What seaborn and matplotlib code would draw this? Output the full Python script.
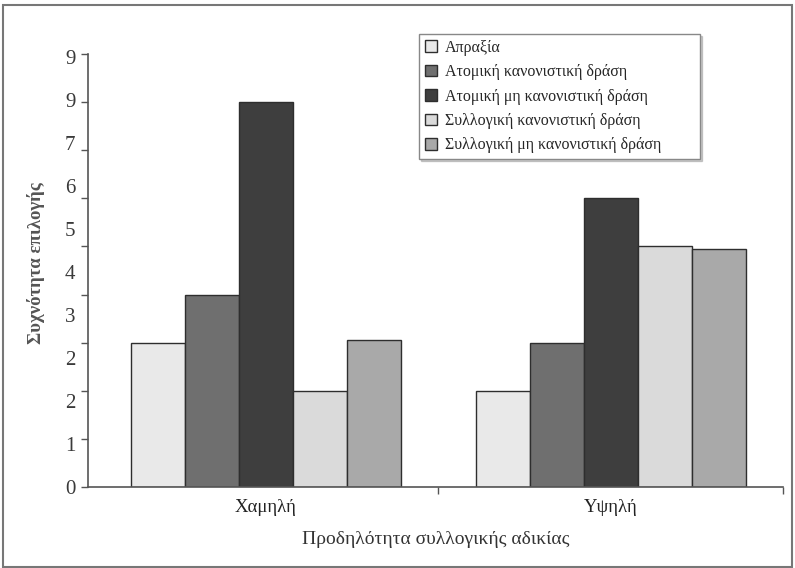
import numpy as np
import pandas as pd
import matplotlib
matplotlib.use("Agg")
import matplotlib.pyplot as plt
import seaborn as sns
from matplotlib.patches import Rectangle

# data
groups = ["Χαμηλή", "Υψηλή"]
actions = ["Απραξία",
           "Ατομική κανονιστική δράση",
           "Ατομική μη κανονιστική δράση",
           "Συλλογική κανονιστική δράση",
           "Συλλογική μη κανονιστική δράση"]
low_vals = [3, 4, 8, 2, 3.05]
high_vals = [2, 3, 6, 5, 4.95]
ytick_labels = ["0", "1", "2", "2", "3", "4", "5", "6", "7", "9", "9"]
colors = ["#e9e9e9", "#6f6f6f", "#3e3e3e", "#dadada", "#a9a9a9"]

df = pd.DataFrame({
    "group": [groups[0]] * 5 + [groups[1]] * 5,
    "action": actions * 2,
    "value": low_vals + high_vals,
})

sns.set_style("white")
plt.rcParams["font.family"] = ["Liberation Serif", "DejaVu Serif"]

fig = plt.figure(figsize=(7.95, 5.68), dpi=100)
ax = fig.add_axes([88/795, 1-487/568, 695/795, 433/568])

sns.barplot(data=df, x="group", y="value", hue="action", order=groups,
            hue_order=actions, palette=dict(zip(actions, colors)),
            width=0.783, edgecolor="#2e2e2e", linewidth=1, saturation=1, ax=ax)

ax.set_xlim(-0.515, 1.5)
ax.set_ylim(0, 9)
sns.despine(ax=ax)
for s in ["left", "bottom"]:
    ax.spines[s].set_color("#555555")
    ax.spines[s].set_linewidth(1.2)

# y axis: tick marks at whole units, labels as printed (spacing differs)
ax.yaxis.remove_overlapping_locs = False
ax.set_yticks(range(10))
ax.set_yticklabels([])
ax.tick_params(axis="y", which="major", direction="out", length=5, width=1, color="#555555", left=True)
ax.set_yticks(np.linspace(0, 8.93, len(ytick_labels)), minor=True)
ax.set_yticklabels(ytick_labels, minor=True, fontsize=15, color="#3a3a3a")
ax.tick_params(axis="y", which="minor", length=0, pad=9, left=True)

# x axis: category labels, small ticks between groups
ax.set_xticks([0, 1])
ax.set_xticklabels(groups, fontsize=13.5, color="#222222")
ax.tick_params(axis="x", which="major", length=0, pad=9)
ax.set_xticks([0.5, 1.5], minor=True)
ax.tick_params(axis="x", which="minor", direction="out", length=5, width=1, color="#555555", bottom=True)

ax.set_xlabel("Προδηλότητα συλλογικής αδικίας", fontsize=14, color="#333333")
ax.xaxis.set_label_coords(0.5, -0.102)
ax.set_ylabel("Συχνότητα επιλογής", fontsize=13.5, color="#555555", fontweight="bold")
ax.yaxis.set_label_coords(-0.062, (487-263)/433)

handles, labels = ax.get_legend_handles_labels()
leg = ax.legend(handles, labels, loc="upper left", mode="expand",
                bbox_to_anchor=(419/795, 0, 281/795, 1-34/568),
                bbox_transform=fig.transFigure, fontsize=11.5, frameon=True, fancybox=False,
                shadow={"ox": 1.5, "oy": -1.5, "color": "#999999"}, handlelength=0.75,
                handleheight=0.75, handletextpad=0.5, labelspacing=0.53, borderpad=0.35,
                borderaxespad=0, edgecolor="#888888")
leg.get_frame().set_linewidth(1)

fig.patches.append(Rectangle((0.004, 0.002), 0.992, 0.989, transform=fig.transFigure,
                             fill=False, edgecolor="#777777", linewidth=1.5))

fig.savefig("out.png", dpi=100)
